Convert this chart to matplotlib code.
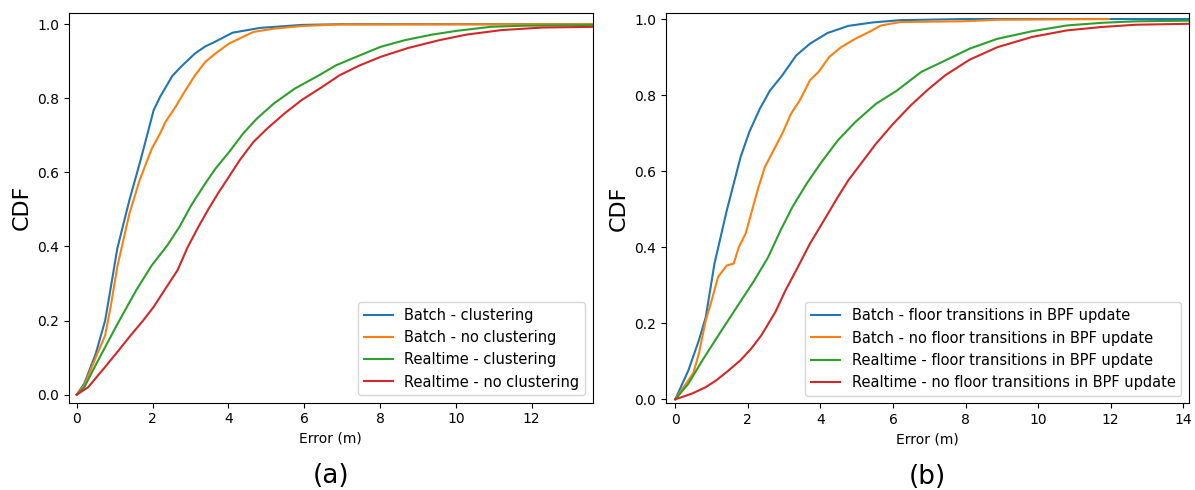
import matplotlib
matplotlib.use("Agg")
import matplotlib.pyplot as plt

# ---- Panel (a) data ----
a_labels = ["Batch - clustering", "Batch - no clustering",
            "Realtime - clustering", "Realtime - no clustering"]
a_blue_x = [0, 0.2, 0.5, 0.75, 0.9, 1.07, 1.39, 1.66, 1.8, 2.03, 2.2, 2.52, 2.75, 3.12, 3.39, 3.6, 4.11, 4.84, 5.93, 7.0, 14.5]
a_blue_y = [0, 0.03, 0.11, 0.2, 0.29, 0.394, 0.525, 0.624, 0.678, 0.768, 0.804, 0.86, 0.885, 0.921, 0.94, 0.95, 0.977, 0.99, 0.998, 1.0, 1.0]
a_orange_x = [0, 0.2, 0.5, 0.75, 0.9, 1.07, 1.39, 1.66, 1.98, 2.2, 2.34, 2.62, 2.84, 3.12, 3.39, 3.66, 4.02, 4.66, 5.2, 5.93, 6.84, 14.5]
a_orange_y = [0, 0.025, 0.10, 0.16, 0.24, 0.345, 0.489, 0.579, 0.664, 0.705, 0.736, 0.779, 0.817, 0.862, 0.898, 0.921, 0.948, 0.979, 0.988, 0.995, 0.999, 1.0]
a_green_x = [0, 0.2, 0.5, 1.07, 1.57, 1.98, 2.39, 2.71, 3.02, 3.39, 3.66, 4.02, 4.39, 4.75, 5.2, 5.75, 6.39, 6.84, 7.47, 8.02, 8.66, 9.38, 10.02, 10.93, 11.83, 14.5]
a_green_y = [0, 0.02, 0.08, 0.19, 0.282, 0.349, 0.403, 0.453, 0.511, 0.57, 0.61, 0.655, 0.705, 0.745, 0.786, 0.826, 0.862, 0.889, 0.916, 0.939, 0.957, 0.972, 0.982, 0.993, 0.996, 0.998]
a_red_x = [0, 0.3, 0.75, 1.07, 1.39, 1.75, 2.03, 2.34, 2.66, 2.93, 3.21, 3.48, 3.75, 4.02, 4.3, 4.66, 5.02, 5.48, 5.93, 6.48, 6.93, 7.47, 8.02, 8.75, 9.57, 10.29, 11.2, 12.29, 14.5]
a_red_y = [0, 0.02, 0.075, 0.115, 0.156, 0.2, 0.237, 0.286, 0.336, 0.399, 0.453, 0.502, 0.547, 0.589, 0.633, 0.682, 0.718, 0.759, 0.795, 0.831, 0.862, 0.889, 0.912, 0.936, 0.957, 0.972, 0.984, 0.991, 0.994]

# ---- Panel (b) data ----
b_labels = ["Batch - floor transitions in BPF update",
            "Batch - no floor transitions in BPF update",
            "Realtime - floor transitions in BPF update",
            "Realtime - no floor transitions in BPF update"]
b_blue_x = [0, 0.36, 0.65, 0.84, 1.08, 1.42, 1.61, 1.8, 2.04, 2.33, 2.61, 2.95, 3.33, 3.71, 4.19, 4.77, 5.44, 6.2, 8.0, 14.5]
b_blue_y = [0, 0.076, 0.155, 0.216, 0.357, 0.497, 0.567, 0.637, 0.703, 0.764, 0.812, 0.852, 0.904, 0.935, 0.963, 0.982, 0.991, 0.997, 1.0, 1.0]
b_orange_x = [0, 0.36, 0.5, 0.65, 0.84, 0.99, 1.18, 1.42, 1.61, 1.75, 1.94, 2.09, 2.28, 2.47, 2.71, 2.95, 3.19, 3.43, 3.57, 3.71, 3.95, 4.24, 4.57, 4.96, 5.34, 5.67, 6.2, 7.92, 8.88, 11.95]
b_orange_y = [0, 0.05, 0.07, 0.12, 0.208, 0.256, 0.322, 0.352, 0.357, 0.4, 0.436, 0.488, 0.554, 0.611, 0.655, 0.699, 0.751, 0.786, 0.812, 0.839, 0.861, 0.9, 0.926, 0.948, 0.966, 0.983, 0.992, 0.994, 0.998, 1.0]
b_green_x = [0, 0.36, 0.75, 1.22, 1.7, 2.18, 2.56, 2.9, 3.23, 3.62, 4.0, 4.48, 4.96, 5.53, 6.11, 6.78, 7.44, 8.11, 8.88, 9.84, 10.79, 11.75, 12.7, 14.5]
b_green_y = [0, 0.041, 0.103, 0.173, 0.243, 0.313, 0.374, 0.444, 0.506, 0.567, 0.62, 0.681, 0.729, 0.777, 0.812, 0.861, 0.891, 0.922, 0.948, 0.968, 0.983, 0.99, 0.994, 0.996]
b_red_x = [0, 0.46, 0.84, 1.13, 1.42, 1.8, 2.09, 2.37, 2.76, 3.04, 3.33, 3.71, 4.1, 4.48, 4.77, 5.15, 5.53, 6.01, 6.49, 6.97, 7.44, 8.11, 8.88, 9.84, 10.79, 11.75, 12.7, 14.5]
b_red_y = [0, 0.015, 0.032, 0.05, 0.072, 0.103, 0.133, 0.168, 0.23, 0.287, 0.339, 0.409, 0.471, 0.532, 0.576, 0.624, 0.672, 0.725, 0.773, 0.815, 0.852, 0.893, 0.926, 0.953, 0.97, 0.979, 0.985, 0.988]

colors = ["#1f77b4", "#ff7f0e", "#2ca02c", "#d62728"]

fig = plt.figure(figsize=(11.95, 4.9), dpi=100)
W, H = 1195, 490
ax1 = fig.add_axes([69 / W, (H - 402.7) / H, (592.7 - 69) / W, (402.7 - 12.7) / H])
ax2 = fig.add_axes([666 / W, (H - 403.3) / H, (1188.7 - 666) / W, (403.3 - 12.7) / H])

a_series = [(a_blue_x, a_blue_y), (a_orange_x, a_orange_y), (a_green_x, a_green_y), (a_red_x, a_red_y)]
b_series = [(b_blue_x, b_blue_y), (b_orange_x, b_orange_y), (b_green_x, b_green_y), (b_red_x, b_red_y)]

for (x, y), lab, c in zip(a_series, a_labels, colors):
    ax1.plot(x, y, color=c, lw=1.5, label=lab)
for (x, y), lab, c in zip(b_series, b_labels, colors):
    ax2.plot(x, y, color=c, lw=1.5, label=lab)

ax1.set_xlim(-0.203, 13.61)
ax1.set_ylim(-0.0216, 1.031)
ax2.set_xlim(-0.256, 14.15)
ax2.set_ylim(-0.0105, 1.0166)

for ax, tag in ((ax1, "(a)"), (ax2, "(b)")):
    ax.set_xticks([0, 2, 4, 6, 8, 10, 12] if ax is ax1 else [0, 2, 4, 6, 8, 10, 12, 14])
    ax.set_yticks([0.0, 0.2, 0.4, 0.6, 0.8, 1.0])
    ax.tick_params(labelsize=10)
    ax.set_xlabel("Error (m)", fontsize=10)
    ax.set_ylabel("CDF", fontsize=16)
    ax.legend(loc="lower right", fontsize=10.5)
    ax.text(0.5, -0.206, tag, transform=ax.transAxes, ha="center", va="baseline", fontsize=19)

fig.savefig("out.png", dpi=100)
